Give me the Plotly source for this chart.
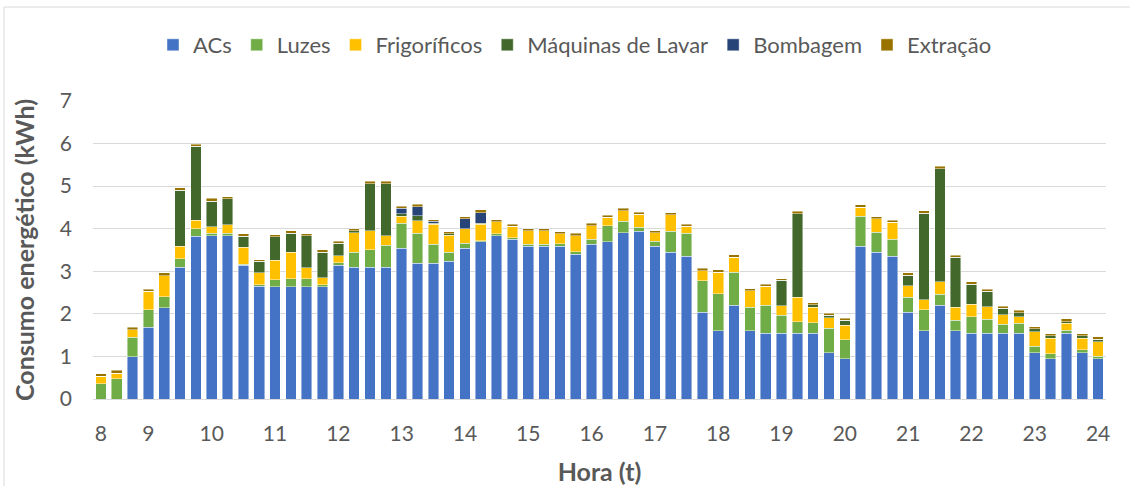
import plotly.graph_objects as go

# 64 quarter-hour intervals, 8h -> 24h
slots = list(range(64))
tick_pos = [0, 3, 7, 11, 15, 19, 23, 27, 31, 35, 39, 43, 47, 51, 55, 59, 63]
tick_labels = ["8", "9", "10", "11", "12", "13", "14", "15", "16", "17", "18",
               "19", "20", "21", "22", "23", "24"]

acs = [0, 0, .99, 1.68, 2.14, 3.09, 3.82, 3.84, 3.84, 3.14,
       2.65, 2.64, 2.64, 2.64, 2.64, 3.14, 3.09, 3.09, 3.09, 3.54,
       3.19, 3.19, 3.24, 3.54, 3.69, 3.84, 3.75, 3.59, 3.59, 3.59,
       3.40, 3.64, 3.69, 3.90, 3.94, 3.59, 3.45, 3.35, 2.04, 1.60,
       2.20, 1.60, 1.54, 1.54, 1.54, 1.54, 1.09, .94, 3.59, 3.45,
       3.35, 2.04, 1.60, 2.20, 1.60, 1.54, 1.54, 1.54, 1.54, 1.09,
       .94, 1.54, 1.09, .94]
luzes = [.36, .48, .46, .42, .26, .21, .18, .05, .05, .03,
         .03, .16, .19, .19, .04, .06, .36, .42, .52, .59,
         .70, .44, .21, .12, .03, .04, .04, .04, .04, .06,
         .06, .11, .38, .27, .09, .11, .49, .54, .74, .87,
         .78, .55, .66, .43, .28, .25, .57, .45, .70, .47,
         .40, .35, .50, .26, .25, .39, .33, .22, .24, .15,
         .12, .07, .07, .07]
frigorificos = [.17, .13, .18, .43, .50, .29, .20, .16, .20, .40,
                .28, .46, .62, .25, .17, .17, .45, .44, .23, .16,
                .30, .47, .40, .34, .39, .28, .27, .32, .32, .23,
                .38, .32, .20, .25, .31, .20, .39, .17, .23, .51,
                .35, .39, .45, .22, .57, .36, .25, .34, .21, .31,
                .40, .27, .23, .30, .30, .29, .30, .22, .15, .34,
                .37, .17, .27, .34]
maquinas = [0, 0, 0, 0, 0, 1.31, 1.74, .60, .61, .25,
            .27, .55, .44, .75, .60, .29, .05, 1.11, 1.22, .06,
            .12, .03, .03, 0, .02, 0, 0, 0, 0, 0,
            0, 0, 0, 0, 0, 0, 0, 0, 0, 0,
            0, 0, 0, .60, 1.96, .06, .06, .12, 0, 0,
            0, .25, 2.03, 2.65, 1.18, .48, .36, .15, .10, .07,
            .06, .04, .06, .05]
bombagem = [0, 0, 0, 0, 0, 0, 0, 0, 0, 0,
            0, 0, 0, 0, 0, 0, 0, 0, 0, .13,
            .21, .04, 0, .23, .25, 0, 0, 0, 0, 0,
            0, 0, 0, 0, 0, 0, 0, 0, 0, 0,
            0, 0, 0, 0, 0, 0, 0, 0, 0, 0,
            0, 0, 0, 0, 0, 0, 0, 0, 0, 0,
            0, 0, 0, 0]
extracao = [.06, .06, .05, .05, .06, .06, .05, .06, .05, .06,
            .04, .05, .06, .05, .06, .05, .05, .05, .06, .05,
            .06, .04, .05, .05, .06, .05, .04, .05, .05, .05,
            .05, .06, .05, .06, .05, .05, .05, .05, .06, .06,
            .06, .05, .04, .04, .06, .05, .05, .05, .06, .05,
            .05, .05, .06, .06, .05, .06, .05, .05, .05, .05,
            .04, .06, .04, .06]

series = [
    ("ACs", acs, "#4472C4"),
    ("Luzes", luzes, "#70AD47"),
    ("Frigoríficos", frigorificos, "#FFC000"),
    ("Máquinas de Lavar", maquinas, "#43682B"),
    ("Bombagem", bombagem, "#264478"),
    ("Extração", extracao, "#997300"),
]

FONT = "Lato"
GREY = "#595959"

fig = go.Figure()
for name, vals, col in series:
    fig.add_trace(go.Bar(
        x=slots, y=vals, name=name,
        marker=dict(color=col, line=dict(color="rgba(255,255,255,0.55)", width=0.8)),
    ))

# Plot area geometry (px)
L, R, T, B = 93, 24, 101, 87
W = 1130 - L - R
H = 486 - T - B

fig.update_layout(
    width=1130, height=486,
    barmode="stack", bargap=0.33,
    margin=dict(l=L, r=R, t=T, b=B, autoexpand=False),
    paper_bgcolor="white", plot_bgcolor="white",
    font=dict(family=FONT, color=GREY, size=21),
    showlegend=True,
    legend=dict(orientation="h", x=(575 - L) / W, xanchor="center",
                y=1 + (T - 45) / H, yanchor="middle",
                font=dict(family=FONT, size=22, color=GREY),
                traceorder="normal", itemclick=False),
    xaxis=dict(range=[-0.5, 63.5], tickmode="array", tickvals=tick_pos,
               ticktext=tick_labels, showgrid=False, showline=True,
               linecolor="#D9D9D9", linewidth=1, ticks="", ticklabelstandoff=16,
               automargin=False,
               tickfont=dict(family=FONT, size=21, color=GREY),
               title=dict(text="<b>Hora (t)</b>", standoff=20,
                          font=dict(family=FONT, size=25, color=GREY))),
    yaxis=dict(range=[0, 7], dtick=1, showgrid=True, gridcolor="#D9D9D9",
               gridwidth=1, zeroline=False, showline=False, ticks="",
               ticklabelstandoff=20, automargin=False,
               tickfont=dict(family=FONT, size=21, color=GREY),
               title=dict(text="<b>Consumo energético (kWh)</b>", standoff=18,
                          font=dict(family=FONT, size=25, color=GREY))),
)

# chart-area frame (left and top edges visible)
x0 = (4 - L) / W
y_top = (486 - B - 7) / H
fig.add_shape(type="line", xref="paper", yref="paper", x0=x0, x1=x0,
              y0=-(B + 5) / H, y1=y_top, line=dict(color="#D9D9D9", width=1))
fig.add_shape(type="line", xref="paper", yref="paper", x0=x0, x1=(1135 - L) / W,
              y0=y_top, y1=y_top, line=dict(color="#D9D9D9", width=1))

fig.write_html("out.html", config={"displayModeBar": False},
               post_script="document.body.style.margin='0';document.body.style.overflow='hidden';")
